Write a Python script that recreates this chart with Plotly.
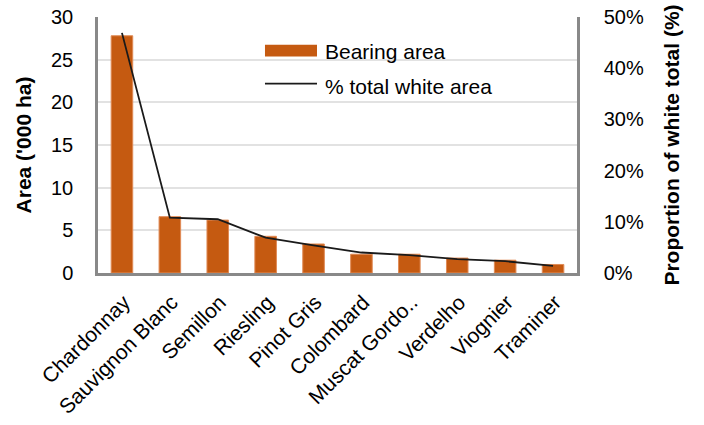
import plotly.graph_objects as go

# White grape varieties, bearing area and share of total white area
varieties = ["Chardonnay", "Sauvignon Blanc", "Semillon", "Riesling", "Pinot Gris",
             "Colombard", "Muscat Gordo..", "Verdelho", "Viognier", "Traminer"]
bearing_area = [27.8, 6.6, 6.2, 4.3, 3.4, 2.2, 2.2, 1.75, 1.5, 1.0]   # '000 ha
share_white = [0.469, 0.108, 0.105, 0.069, 0.054, 0.040, 0.035, 0.027, 0.023, 0.014]

BAR_NAME = "Bearing area"
LINE_NAME = "% total white area"

BAR_COLOR = "#C55A11"
LINE_COLOR = "#1a1a1a"
AXIS_GREY = "#898989"
GRID_GREY = "#E2E2E2"
FONT = "Liberation Sans, Arial, sans-serif"

fig = go.Figure()
fig.add_trace(go.Bar(
    x=varieties, y=bearing_area, name=BAR_NAME,
    marker=dict(color=BAR_COLOR, line=dict(color="#E08A55", width=1)),
    yaxis="y",
))
fig.add_trace(go.Scatter(
    x=varieties, y=share_white, name=LINE_NAME,
    mode="lines", line=dict(color=LINE_COLOR, width=1.8),
    yaxis="y2",
))

# Legend drawn as wide swatches with labels inside the plot area
LEG_X0, LEG_X1, LEG_TX = 0.3486, 0.4572, 0.4697
ROW1, ROW2 = 0.869, 0.74
legend_shapes = [
    dict(type="rect", xref="paper", yref="paper", x0=LEG_X0, x1=LEG_X1,
         y0=ROW1 - 0.023, y1=ROW1 + 0.023, fillcolor=BAR_COLOR, line=dict(width=0)),
    dict(type="line", xref="paper", yref="paper", x0=LEG_X0, x1=LEG_X1,
         y0=ROW2, y1=ROW2, line=dict(color=LINE_COLOR, width=1.8)),
]
legend_labels = [
    dict(text=BAR_NAME, xref="paper", yref="paper", x=LEG_TX, y=ROW1 - 0.004,
         xanchor="left", yanchor="middle", showarrow=False, font=dict(size=21)),
    dict(text=LINE_NAME, xref="paper", yref="paper", x=LEG_TX, y=ROW2 - 0.01,
         xanchor="left", yanchor="middle", showarrow=False, font=dict(size=21)),
]

fig.update_layout(
    width=704, height=425,
    margin=dict(l=98, r=127, t=17, b=152, autoexpand=False),
    paper_bgcolor="white", plot_bgcolor="white",
    font=dict(family=FONT, size=20, color="#000000"),
    bargap=0.55,
    showlegend=False,
    shapes=legend_shapes,
    annotations=legend_labels,
    xaxis=dict(
        tickangle=-45, showline=True, linecolor=AXIS_GREY, linewidth=2.5,
        ticks="", showgrid=False, tickfont=dict(size=21), automargin=False,
        ticklabelshift=2, ticklabelstandoff=6,
    ),
    yaxis=dict(
        range=[0, 30], dtick=5, showgrid=True, gridcolor=GRID_GREY, gridwidth=1.5,
        showline=True, linecolor=AXIS_GREY, linewidth=2.5, zeroline=False,
        ticks="outside", ticklen=18, tickcolor="rgba(0,0,0,0)", tickfont=dict(size=20),
        automargin=False,
        title=dict(text="<b>Area ('000 ha)</b>", font=dict(size=21), standoff=14),
    ),
    yaxis2=dict(
        range=[0, 0.5], dtick=0.1, tickformat=".0%", overlaying="y", side="right",
        showgrid=False, showline=True, linecolor=AXIS_GREY, linewidth=2.5,
        zeroline=False, ticks="outside", ticklen=20, tickcolor="rgba(0,0,0,0)",
        tickfont=dict(size=20), automargin=False,
        title=dict(text="<b>Proportion of white total (%)</b>", font=dict(size=21), standoff=22),
    ),
)

fig.write_html("out.html")
